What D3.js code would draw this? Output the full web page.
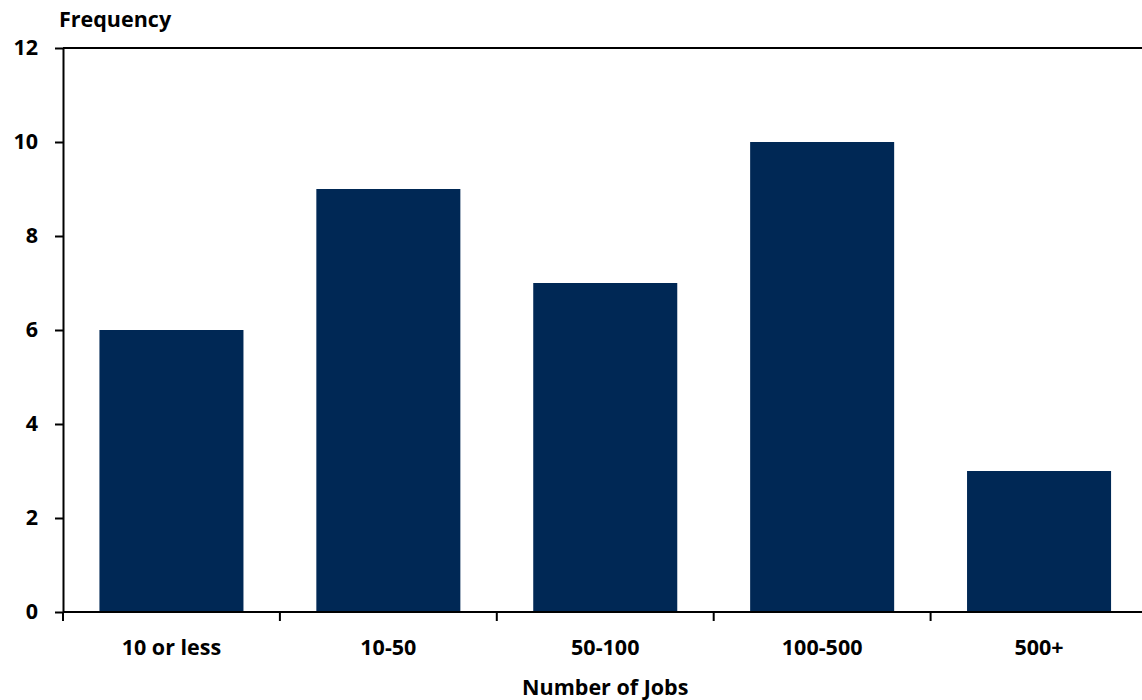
<!DOCTYPE html>
<html>
<head>
<meta charset="utf-8">
<script src="https://cdn.jsdelivr.net/npm/d3@7"></script>
<style>
  html, body { margin: 0; padding: 0; background: #fff; }
  svg { display: block; }
  text { font-family: "Open Sans", Lato, sans-serif; font-weight: 700; fill: #000; }
</style>
</head>
<body>
<svg id="chart" width="1142" height="700"></svg>
<script>
// Frequency of projects by number of jobs
const categories = ["10 or less", "10-50", "50-100", "100-500", "500+"];
const frequency = [6, 9, 7, 10, 3];
const yTicks = [0, 2, 4, 6, 8, 10, 12];

const W = 1142, H = 700;
const m = { left: 63, right: 1147.5, top: 48, bottom: 612 };
const fontSize = 21.5;

const svg = d3.select("#chart");

const x = d3.scaleBand()
  .domain(categories)
  .range([m.left, m.right])
  .paddingInner(0.336)
  .paddingOuter(0.168);

const y = d3.scaleLinear().domain([0, 12]).range([m.bottom, m.top]);

// bars
svg.append("g")
  .selectAll("rect")
  .data(categories)
  .join("rect")
  .attr("x", d => x(d))
  .attr("width", x.bandwidth())
  .attr("y", (d, i) => y(frequency[i]))
  .attr("height", (d, i) => y(0) - y(frequency[i]))
  .attr("fill", "#002855");

// top frame line
svg.append("line")
  .attr("x1", m.left).attr("x2", W)
  .attr("y1", y(12)).attr("y2", y(12))
  .attr("stroke", "#000").attr("stroke-width", 2);

// y axis
const yAxis = svg.append("g")
  .attr("transform", `translate(${m.left},0)`)
  .call(d3.axisLeft(y).tickValues(yTicks).tickSize(8).tickSizeOuter(0).tickPadding(17));
yAxis.select(".domain").attr("stroke", "#000").attr("stroke-width", 2);
yAxis.selectAll(".tick line").attr("stroke", "#000").attr("stroke-width", 2);
yAxis.selectAll(".tick text").attr("font-size", fontSize).attr("font-family", null);

// x axis: ticks at category boundaries
const step = x.step();
const boundaries = d3.range(categories.length).map(i => m.left + i * step);
svg.append("line")
  .attr("x1", m.left).attr("x2", W)
  .attr("y1", y(0)).attr("y2", y(0))
  .attr("stroke", "#000").attr("stroke-width", 2);
svg.append("g")
  .selectAll("line")
  .data(boundaries)
  .join("line")
  .attr("x1", d => d).attr("x2", d => d)
  .attr("y1", y(0)).attr("y2", y(0) + 9)
  .attr("stroke", "#000").attr("stroke-width", 2);

svg.append("g")
  .selectAll("text")
  .data(categories)
  .join("text")
  .attr("x", d => x(d) + x.bandwidth() / 2)
  .attr("y", 647)
  .attr("dy", "0.35em")
  .attr("text-anchor", "middle")
  .attr("font-size", fontSize)
  .text(d => d);

// axis titles
svg.append("text")
  .attr("x", 59).attr("y", 19)
  .attr("dy", "0.35em")
  .attr("font-size", fontSize)
  .text("Frequency");

svg.append("text")
  .attr("x", (m.left + m.right) / 2).attr("y", 687)
  .attr("dy", "0.35em")
  .attr("text-anchor", "middle")
  .attr("font-size", fontSize)
  .text("Number of Jobs");
</script>
</body>
</html>
